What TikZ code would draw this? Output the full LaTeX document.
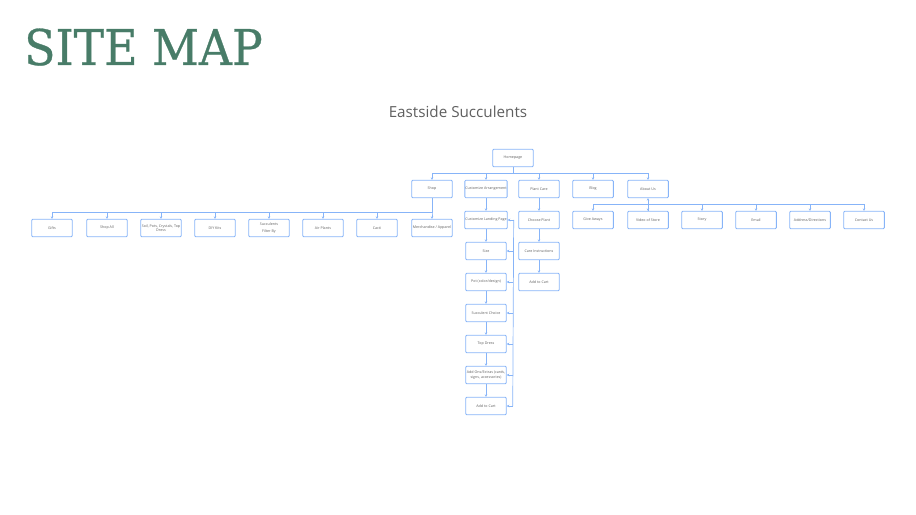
\documentclass[tikz,border=0pt]{standalone}
\usepackage{fontspec}
\setmainfont{Open Sans}
\newfontfamily\titlefont[FakeStretch=0.93, FakeBold=0.6]{DejaVu Serif}
\usetikzlibrary{arrows.meta}

\definecolor{mapgreen}{RGB}{72,124,104}
\definecolor{boxblue}{RGB}{135,180,248}
\definecolor{labelgray}{RGB}{95,95,95}

\tikzset{
    pagebox/.style={draw=boxblue, line width=0.7pt, rounded corners=0.8pt,
        minimum width=1.22cm, minimum height=0.52cm, inner sep=0.5pt,
        align=center, text=labelgray, font=\fontsize{3.1}{3.8}\selectfont},
    link/.style={draw=boxblue, line width=0.6pt,
        -{Stealth[length=2.2pt, width=2.2pt]}},
    wire/.style={draw=boxblue, line width=0.6pt}
}

\begin{document}
\begin{tikzpicture}[yscale=-1, x=0.03cm, y=0.03cm]

\useasboundingbox (0,0) rectangle (916,515);

% Headings
\node[anchor=base west, inner sep=0, text=mapgreen,
    font=\titlefont\fontsize{42}{42}\selectfont] (title) at (24,65) {SITE MAP};
\node[inner sep=0, text=labelgray,
    font=\fontsize{13}{13}\selectfont] (brand) at (458,112) {Eastside Succulents};

% Top levels
\node[pagebox] (home) at (513,158) {Homepage};
\node[pagebox] (shop) at (432,189) {Shop};
\node[pagebox] (custom) at (486,189) {Customize Arrangement};
\node[pagebox] (care) at (539,189) {Plant Care};
\node[pagebox] (blog) at (593,189) {Blog};
\node[pagebox] (about) at (648,189) {About Us};

% Shop pages
\node[pagebox] (gifts) at (52,228) {Gifts};
\node[pagebox] (shopall) at (107,228) {Shop All};
\node[pagebox] (soil) at (161,228) {Soil, Pots, Crystals, Top\\Dress};
\node[pagebox] (diy) at (215,228) {DIY Kits};
\node[pagebox] (succ) at (269,228) {Succulents\\[2.5pt]Filter By};
\node[pagebox] (air) at (323,228) {Air Plants};
\node[pagebox] (cacti) at (377,228) {Cacti};
\node[pagebox] (merch) at (432,228) {Merchandise / Apparel};

% Customize steps
\node[pagebox] (landing) at (486,220) {Customize Landing Page};
\node[pagebox] (size) at (486,251) {Size};
\node[pagebox] (pot) at (486,282) {Pot (color/design)};
\node[pagebox] (choice) at (486,313) {Succulent Choice};
\node[pagebox] (topdress) at (486,344) {Top Dress};
\node[pagebox] (addons) at (486,375) {Add Ons/Extras (cards,\\signs, accessories)};
\node[pagebox] (cartA) at (486,406) {Add to Cart};

% Plant care steps
\node[pagebox] (choose) at (539,220) {Choose Plant};
\node[pagebox] (instr) at (539,251) {Care Instructions};
\node[pagebox] (cartB) at (539,282) {Add to Cart};

% About pages
\node[pagebox] (give) at (593,220) {Give Aways};
\node[pagebox] (video) at (648,220) {Video of Store};
\node[pagebox] (story) at (702,220) {Story};
\node[pagebox] (email) at (756,220) {Email};
\node[pagebox] (address) at (810,220) {Address/Directions};
\node[pagebox] (contact) at (864,220) {Contact Us};

% Homepage to sections
\foreach \n in {shop,custom,care,blog,about}
    \draw[link] (home.south) -- ++(0,6) -| (\n.north);

% Shop branch
\foreach \n in {gifts,shopall,soil,diy,succ,air,cacti,merch}
    \draw[link] (shop.south) -- ++(0,14) -| (\n.north);

% Customize branch
\draw[link] (custom) -- (landing);
\draw[link] (landing) -- (size);
\draw[link] (size) -- (pot);
\draw[link] (pot) -- (choice);
\draw[link] (choice) -- (topdress);
\draw[link] (topdress) -- (addons);
\draw[link] (addons) -- (cartA);
\draw[wire] ([xshift=0.18cm]landing.east) -- ([xshift=0.18cm]cartA.east);
\foreach \n in {landing,size,pot,choice,topdress,addons,cartA}
    \draw[link] ([xshift=0.18cm]\n.east) -- (\n.east);

% Plant care branch
\draw[link] (care) -- (choose);
\draw[link] (choose) -- (instr);
\draw[link] (instr) -- (cartB);

% About branch
\draw[link] (video.north) -- (about.south);
\foreach \n in {give,video,story,email,address,contact}
    \draw[link] (about.south) ++(0,6) -| (\n.north);

\end{tikzpicture}
\end{document}
